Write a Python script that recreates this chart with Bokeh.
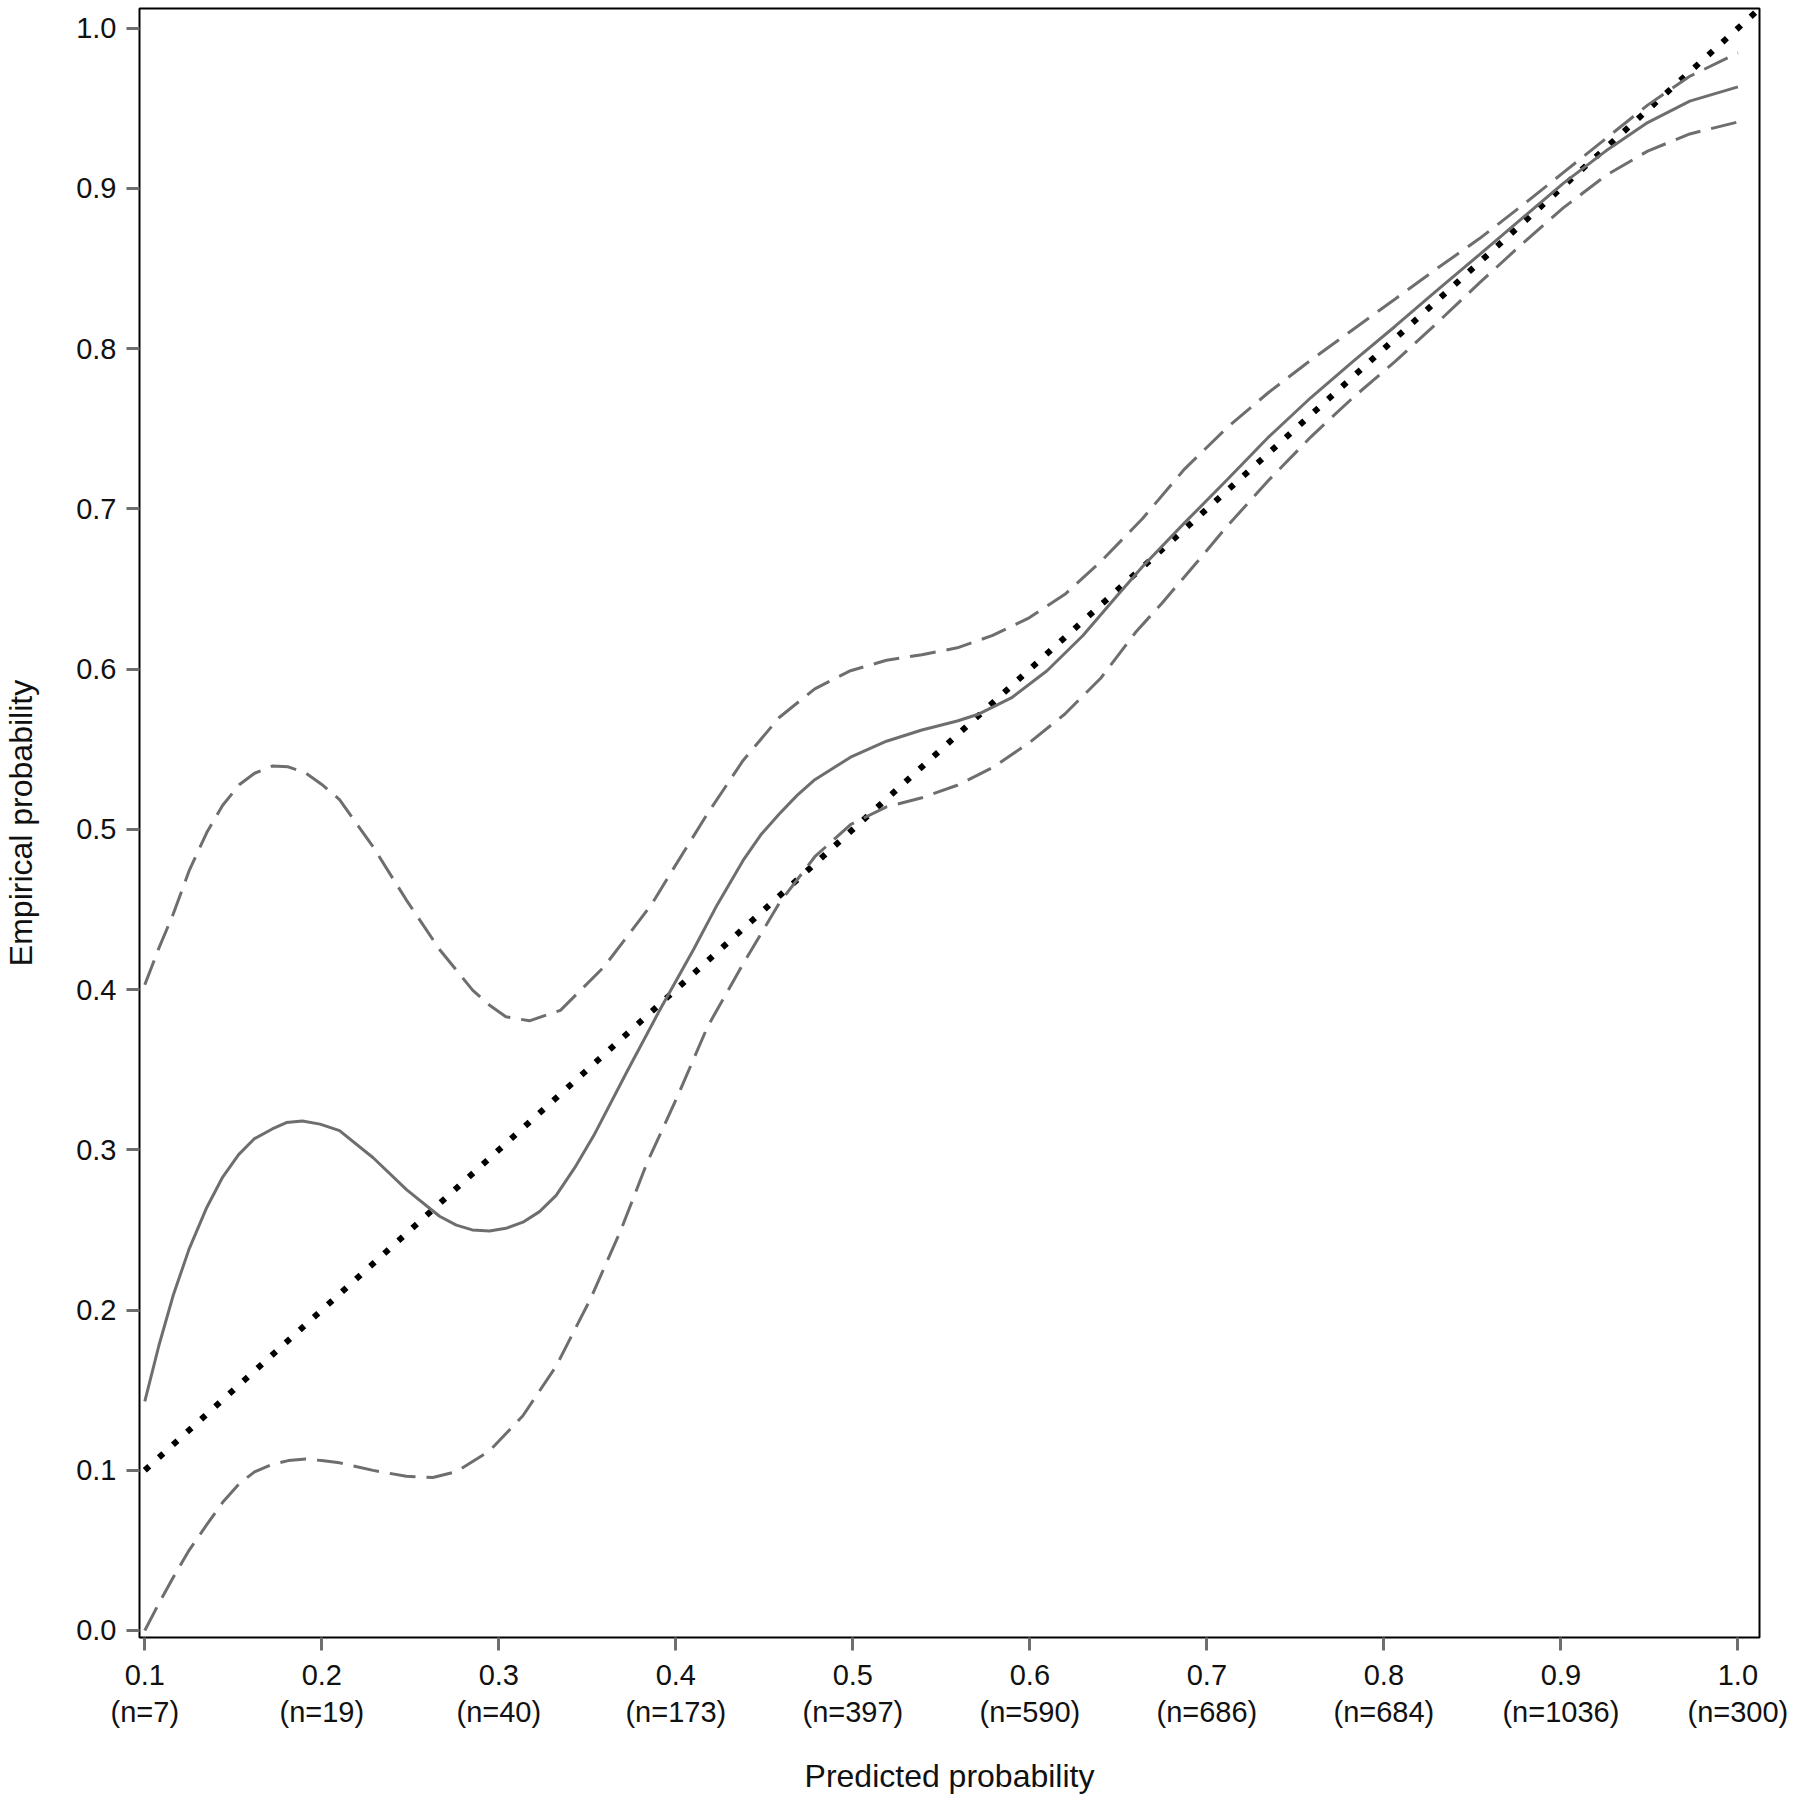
from bokeh.plotting import figure
from bokeh.models import FixedTicker
from bokeh.embed import file_html
from bokeh.resources import INLINE

# ---- data ----
x_ticks = [0.1, 0.2, 0.3, 0.4, 0.5, 0.6, 0.7, 0.8, 0.9, 1.0]
x_counts = ["7", "19", "40", "173", "397", "590", "686", "684", "1036", "300"]
y_ticks = [0.0, 0.1, 0.2, 0.3, 0.4, 0.5, 0.6, 0.7, 0.8, 0.9, 1.0]

diag_x = [0.1, 1.02]
diag_y = [0.1, 1.02]

solid_x = [0.100, 0.108, 0.116, 0.125, 0.135, 0.144, 0.153, 0.162, 0.172, 0.180,
           0.189, 0.199, 0.210, 0.229, 0.248, 0.2665, 0.276,
           0.285, 0.2947, 0.304, 0.3136, 0.323, 0.3324, 0.343, 0.3537, 0.3725, 0.3913,
           0.410, 0.4234, 0.438, 0.448,
           0.4584, 0.4685, 0.4785, 0.4987, 0.519, 0.539, 0.559, 0.5713, 0.5895, 0.6097, 0.630,
           0.650, 0.6637, 0.6875, 0.7113, 0.735, 0.7588, 0.7826, 0.8064, 0.830, 0.854,
           0.8777, 0.9015, 0.9253, 0.949, 0.9728, 1.0]
solid_y = [0.143, 0.178, 0.209, 0.238, 0.264, 0.283, 0.297, 0.307, 0.313, 0.317,
           0.318, 0.316, 0.312, 0.295, 0.275, 0.2585, 0.2530,
           0.250, 0.2493, 0.2510, 0.2548, 0.2614, 0.2715, 0.289, 0.309, 0.349, 0.388,
           0.425, 0.453, 0.4806, 0.4966,
           0.5096, 0.5212, 0.531, 0.545, 0.555, 0.562, 0.5676, 0.572, 0.582, 0.599, 0.621,
           0.6467, 0.664, 0.6914, 0.718, 0.745, 0.7695, 0.792, 0.814, 0.8364, 0.8587,
           0.881, 0.9033, 0.9233, 0.9411, 0.9545, 0.9634]

upper_x = [0.100, 0.108, 0.116, 0.125, 0.135, 0.144, 0.1535, 0.162, 0.172, 0.181,
           0.191, 0.200, 0.210, 0.229, 0.2477, 0.2665,
           0.2853, 0.295, 0.304, 0.3173, 0.3348, 0.3593, 0.3862, 0.3978, 0.418, 0.438, 0.4584,
           0.4785, 0.4987, 0.519, 0.539, 0.559, 0.579, 0.5996, 0.6198, 0.640, 0.6637,
           0.6875, 0.7113, 0.735, 0.7588, 0.7826, 0.8064, 0.830, 0.854, 0.8777, 0.9015,
           0.9253, 0.949, 0.9728, 1.0]
upper_y = [0.403, 0.426, 0.447, 0.474, 0.498, 0.515, 0.528, 0.535, 0.5395, 0.539,
           0.535, 0.528, 0.5186, 0.489, 0.456, 0.425,
           0.3995, 0.390, 0.383, 0.3805, 0.387, 0.414, 0.453, 0.474, 0.510, 0.543, 0.5698,
           0.5877, 0.599, 0.6055, 0.609, 0.6133, 0.621, 0.632, 0.6467, 0.667, 0.694,
           0.725, 0.7506, 0.7728, 0.7929, 0.812, 0.831, 0.850, 0.8687, 0.889, 0.910,
           0.931, 0.952, 0.970, 0.9846]

lower_x = [0.100, 0.108, 0.116, 0.125, 0.135, 0.144, 0.1535, 0.162, 0.172, 0.181,
           0.191, 0.200, 0.210, 0.229, 0.2477, 0.2627,
           0.276, 0.2947, 0.3136, 0.3324, 0.3518, 0.369, 0.3838, 0.4008, 0.418, 0.438,
           0.4584, 0.4785, 0.4987, 0.519, 0.539, 0.559, 0.579, 0.5996, 0.6198, 0.640,
           0.660, 0.6745, 0.6946, 0.7113, 0.735, 0.7588, 0.7826, 0.8064, 0.830, 0.854,
           0.8777, 0.9015, 0.9253, 0.949, 0.9728, 1.0]
lower_y = [0.0, 0.017, 0.033, 0.050, 0.066, 0.080, 0.0918, 0.099, 0.1036, 0.106,
           0.107, 0.106, 0.1046, 0.0999, 0.0962, 0.0955,
           0.0991, 0.112, 0.134, 0.165, 0.207, 0.250, 0.292, 0.333, 0.377, 0.416,
           0.4539, 0.4829, 0.503, 0.514, 0.5197, 0.5275, 0.5386, 0.554, 0.572, 0.5943,
           0.6233, 0.641, 0.667, 0.689, 0.718, 0.745, 0.7695, 0.792, 0.816, 0.841,
           0.865, 0.888, 0.908, 0.9233, 0.934, 0.9415]

GREY = "#6e6e6e"
FONT = "Liberation Sans"

p = figure(width=1790, height=1798,
           x_range=(0.0970, 1.0122), y_range=(-0.0044, 1.0123),
           output_backend="svg", toolbar_location=None,
           min_border_left=139, min_border_right=31,
           min_border_top=8, min_border_bottom=161,
           x_axis_label="Predicted probability",
           y_axis_label="Empirical probability")

p.background_fill_color = "white"
p.border_fill_color = "white"
p.outline_line_color = "black"
p.outline_line_width = 2
p.grid.visible = False

p.xaxis.ticker = FixedTicker(ticks=x_ticks)
p.xaxis.major_label_overrides = {t: "%.1f\n(n=%s)" % (t, n) for t, n in zip(x_ticks, x_counts)}
p.yaxis.ticker = FixedTicker(ticks=y_ticks)
p.yaxis.major_label_overrides = {t: "%.1f" % t for t in y_ticks}

for ax in (p.xaxis[0], p.yaxis[0]):
    ax.axis_line_color = None
    ax.major_tick_line_color = GREY
    ax.major_tick_line_width = 3
    ax.major_tick_out = 13
    ax.major_tick_in = 0
    ax.minor_tick_line_color = None
    ax.major_label_text_font = FONT
    ax.major_label_text_font_size = "29px"
    ax.major_label_text_color = "#111111"
    ax.axis_label_text_font = FONT
    ax.axis_label_text_font_size = "32px"
    ax.axis_label_text_font_style = "normal"
    ax.axis_label_text_color = "#111111"

p.xaxis.major_label_standoff = 8
p.xaxis.major_label_text_line_height = 1.17
p.xaxis.axis_label_standoff = 27
p.yaxis.major_label_standoff = 10
p.yaxis.axis_label_standoff = 34

p.line(diag_x, diag_y, line_color="black", line_width=6, line_dash="6 13")
p.line(upper_x, upper_y, line_color=GREY, line_width=3, line_dash="26 11")
p.line(lower_x, lower_y, line_color=GREY, line_width=3, line_dash="26 11")
p.line(solid_x, solid_y, line_color=GREY, line_width=3)

open("out.html", "w").write(file_html(p, INLINE))
